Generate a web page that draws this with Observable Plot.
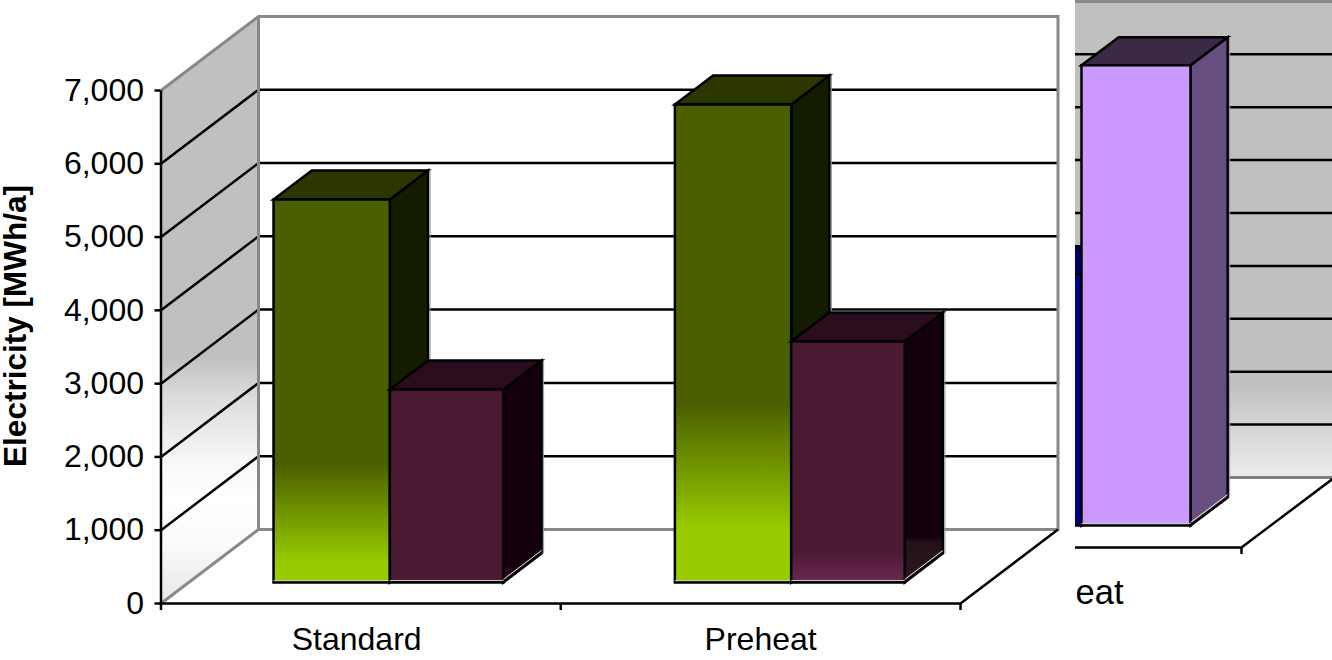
<!DOCTYPE html>
<html>
<head>
<meta charset="utf-8">
<script src="https://cdn.jsdelivr.net/npm/d3@7"></script>
<script src="https://cdn.jsdelivr.net/npm/@observablehq/plot@0.6"></script>
<style>
  html, body { margin: 0; padding: 0; background: #fff; }
  #chart { position: relative; width: 1332px; height: 660px; overflow: hidden; background: #fff; }
</style>
</head>
<body>
<div id="chart"></div>
<script>
// Left chart: annual electricity per configuration
const categories = ["Standard", "Preheat"];
const greenSeries = [5225, 6522];
const plumSeries = [2633, 3288];
const valueTicks = [0, 1000, 2000, 3000, 4000, 5000, 6000, 7000];
const axisTitle = "Electricity [MWh/a]";

// Right chart: the part of it that stays in view
const insetLabel = "eat";
const insetBlue = 4750;
const insetLilac = 8700;
const insetGrid = [1000, 2000, 3000, 4000, 5000, 6000, 7000, 8000];

const FONT = "'Liberation Sans', Arial, sans-serif";
const LINE = 2.5;

// Oblique projection: depth 0 is the front of the floor, depth 1 the back wall.
const projector = (xShift, yShift) => (x, v, d) => ({x: x + d * xShift, y: v + d * yShift});

const gradient = (id, stops) => () => {
  const g = d3.create("svg:linearGradient")
    .attr("id", id).attr("x1", 0).attr("y1", 0).attr("x2", 0).attr("y2", 1);
  for (const [offset, color] of stops) g.append("stop").attr("offset", offset).attr("stop-color", color);
  const defs = d3.create("svg:defs");
  defs.node().appendChild(g.node());
  return defs.node();
};

const face = (points, options) => Plot.line(points, {
  x: "x", y: "y", curve: "linear-closed",
  strokeLinejoin: "miter", strokeMiterlimit: 4, strokeLinecap: "square",
  ...options
});
const edge = (points, stroke, strokeWidth, options = {}) => Plot.line(points, {
  x: "x", y: "y", stroke, strokeWidth,
  strokeLinejoin: "miter", strokeMiterlimit: 4, strokeLinecap: "butt",
  ...options
});

// A bar is three faces: side, top, then front, so nearer faces paint last.
function box(P, x0, x1, d0, d1, value, fills) {
  return [
    face([P(x1, 0, d0), P(x1, 0, d1), P(x1, value, d1), P(x1, value, d0)],
      {fill: fills.side, stroke: "#000", strokeWidth: LINE}),
    face([P(x0, value, d0), P(x0, value, d1), P(x1, value, d1), P(x1, value, d0)],
      {fill: fills.top, stroke: "#000", strokeWidth: LINE}),
    face([P(x0, 0, d0), P(x1, 0, d0), P(x1, value, d0), P(x0, value, d0)],
      {fill: fills.front, stroke: "#000", strokeWidth: LINE})
  ];
}

// Pale highlights along the lower inner edges and the far vertical edge of a bar.
function glints(P, x0, x1, d0, d1, value) {
  return [
    edge([P(x0, 0, d0), P(x1, 0, d0)], "#c8c8c8", 1, {dy: -2}),
    edge([P(x1, 0, d0), P(x1, 0, d1)], "#eeeeee", 1, {dy: -3}),
    edge([P(x1, 0, d1), P(x1, value, d1)], "#9a9a9a", 1, {dx: 2})
  ];
}

// ---- left chart ----
const DX = 0.2439;
const P = projector(DX, 1010);
const TOP = 7000, END = 2;
const barD0 = 0.284, barD1 = 0.676;
const barEdges = [0.2815, 0.5725, 0.8565].map(e => e - barD0 * DX);
const pitch = 1.004;

const fillsFor = [
  {green: {side: "#141c00", top: "#2b3600", front: "url(#green0)"},
   plum: {side: "url(#plumSide0)", top: "#2a0c1c", front: "#4a1a33"}},
  {green: {side: "#141c00", top: "#2b3600", front: "url(#green1)"},
   plum: {side: "url(#plumSide1)", top: "#2a0c1c", front: "url(#plumFront)"}}
];

const bars = categories.flatMap((c, i) => {
  const off = i * pitch;
  const [a, b, e] = barEdges.map(v => v + off);
  return [
    ...box(P, a, b, barD0, barD1, greenSeries[i], fillsFor[i].green),
    ...glints(P, a, b, barD0, barD1, greenSeries[i]).slice(0, 1),
    edge([P(b, plumSeries[i], barD1), P(b, greenSeries[i], barD1)], "#9a9a9a", 1, {dx: 2}),
    ...box(P, b, e, barD0, barD1, plumSeries[i], fillsFor[i].plum),
    ...glints(P, b, e, barD0, barD1, plumSeries[i])
  ];
});

const left = Plot.plot({
  width: 1332, height: 660,
  marginLeft: 160.5, marginRight: 372, marginTop: 90, marginBottom: 57,
  x: {domain: [0, END], axis: null},
  y: {domain: [0, TOP], axis: null},
  style: {fontFamily: FONT, color: "#000", background: "transparent", overflow: "visible", display: "block"},
  marks: [
    gradient("wallSide", [[0, "#c0c0c0"], [0.58, "#c0c0c0"], [0.65, "#dcdcdc"], [0.76, "#f8f8f8"], [0.825, "#ffffff"], [0.9, "#fafafa"], [1, "#e6e6e6"]]),
    gradient("green0", [[0, "#4a5f00"], [0.69, "#4a5f00"], [0.95, "#99cc00"], [1, "#99cc00"]]),
    gradient("green1", [[0, "#4a5f00"], [0.625, "#4a5f00"], [0.89, "#99cc00"], [1, "#99cc00"]]),
    gradient("plumFront", [[0, "#4a1a33"], [0.87, "#4a1a33"], [1, "#6b2850"]]),
    gradient("plumSide0", [[0, "#14000c"], [0.925, "#14000c"], [0.94, "#200a16"], [1, "#200a16"]]),
    gradient("plumSide1", [[0, "#14000c"], [0.83, "#14000c"], [0.85, "#241019"], [1, "#2c1822"]]),

    // side wall and back wall
    face([P(0, 0, 0), P(0, TOP, 0), P(0, TOP, 1), P(0, 0, 1)], {fill: "url(#wallSide)"}),
    face([P(0, 0, 1), P(0, TOP, 1), P(END, TOP, 1), P(END, 0, 1)], {fill: "#fff"}),

    // gridlines run across the side wall and on along the back wall
    ...valueTicks.slice(1, -1).map(v => edge([P(0, v, 0), P(0, v, 1), P(END, v, 1)], "#000", LINE)),

    // wall borders
    edge([P(0, TOP, 0), P(0, TOP, 1), P(END, TOP, 1), P(END, 0, 1), P(0, 0, 1), P(0, TOP, 1)], "#888", 3),
    edge([P(0, 0, 0), P(0, 0, 1)], "#888", 3),

    // floor front and right edges, value axis line
    edge([P(0, TOP, 0), P(0, 0, 0), P(END, 0, 0), P(END, 0, 1)], "#000", LINE),

    ...bars,

    Plot.axisY(valueTicks, {
      anchor: "left", label: null, tickSize: 6, tickPadding: 11, strokeWidth: LINE,
      tickFormat: d3.format(","), fontSize: 32, fill: "#000", stroke: "#000"
    }),
    Plot.axisX([0, 1, 2], {
      anchor: "bottom", label: null, tickSize: 7, strokeWidth: LINE, stroke: "#000", tickFormat: () => ""
    }),
    Plot.text(categories, {
      x: [0.4895, 1.5], frameAnchor: "bottom", dy: 36, lineAnchor: "middle",
      text: d => d, fontSize: 32, fill: "#000"
    }),
    Plot.text([axisTitle], {
      frameAnchor: "left", textAnchor: "middle", rotate: -90, dx: -145.5, dy: -21,
      text: d => d, fontSize: 31.5, fontWeight: 700, fill: "#000"
    })
  ]
});

// ---- right chart, cut off at its left edge ----
const QX = 0.246;
const Q = projector(QX, 1323);
const insetTop = 9000;
const insetD0 = 0.314, insetD1 = insetD0 + 0.4;
const insetEdges = [1.288, 1.5767, 1.865].map(e => e - insetD0 * QX);

const inset = Plot.plot({
  width: 257, height: 660,
  margin: 0,
  x: {domain: [0, 2], range: [-590, 166], axis: null},
  y: {domain: [0, insetTop], range: [547, 70.9], axis: null},
  style: {
    fontFamily: FONT, color: "#000", background: "#fff", overflow: "hidden",
    position: "absolute", left: "1075px", top: "0px"
  },
  marks: [
    gradient("insetWall", [[0, "#c0c0c0"], [0.8, "#c0c0c0"], [0.89, "#d4d4d4"], [1, "#ececec"]]),
    face([Q(0, 0, 1), Q(0, insetTop, 1), Q(2, insetTop, 1), Q(2, 0, 1)], {fill: "url(#insetWall)"}),
    ...insetGrid.map(v => edge([Q(0, v, 1), Q(2, v, 1)], "#000", LINE)),
    edge([Q(0, insetTop, 1), Q(2, insetTop, 1)], "#888", 3),
    edge([Q(0, 0, 1), Q(2, 0, 1)], "#808080", 3),
    edge([Q(0, 0, 0), Q(2, 0, 0), Q(2, 0, 1)], "#000", LINE),
    ...box(Q, insetEdges[0], insetEdges[1], insetD0, insetD1, insetBlue,
      {side: "#00004d", top: "#000066", front: "#000088"}),
    ...box(Q, insetEdges[1], insetEdges[2], insetD0, insetD1, insetLilac,
      {side: "#664e7f", top: "#3a2a45", front: "#cc99ff"}),
    ...glints(Q, insetEdges[1], insetEdges[2], insetD0, insetD1, insetLilac),
    Plot.axisX([2], {anchor: "bottom", y: 0, label: null, tickSize: 7, strokeWidth: LINE, stroke: "#000", tickFormat: () => ""}),
    Plot.text([insetLabel], {
      x: [1.688], y: [0], dy: 45, textAnchor: "end", text: d => d, fontSize: 34.5, fill: "#000"
    })
  ]
});

const root = document.getElementById("chart");
root.appendChild(left);
root.appendChild(inset);
</script>
</body>
</html>
